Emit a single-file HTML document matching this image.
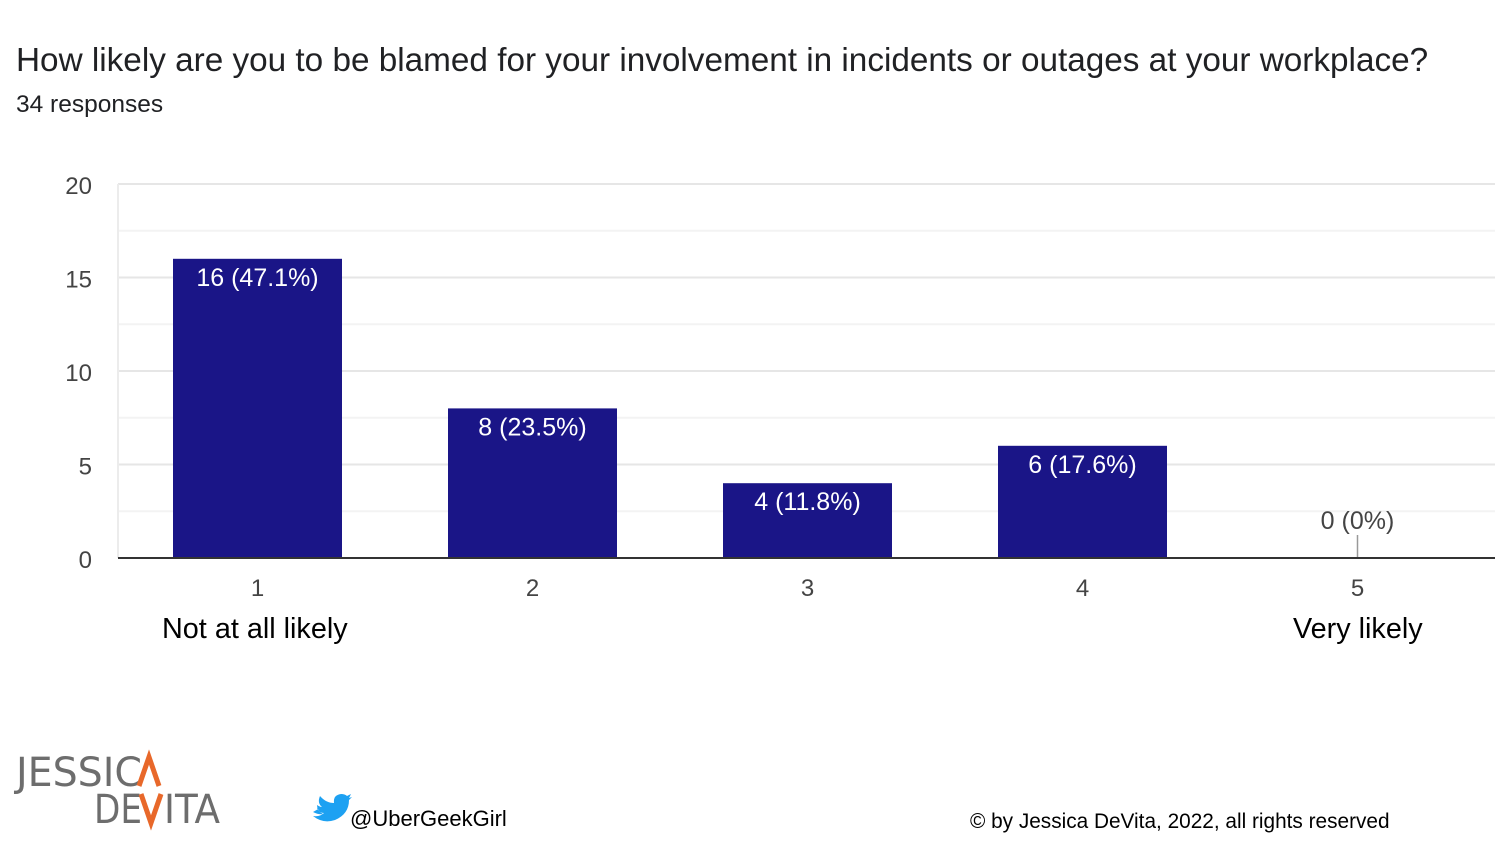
<!DOCTYPE html>
<html><head><meta charset="utf-8">
<style>
body{margin:0;background:#fff;width:1500px;height:844px;overflow:hidden;font-family:"Liberation Sans",Arial,sans-serif}
</style></head>
<body>
<svg width="1500" height="844" style="position:absolute;left:0;top:0">
<text x="16" y="71" font-size="33.3" fill="#202124">How likely are you to be blamed for your involvement in incidents or outages at your workplace?</text>
<text x="16" y="112" font-size="24.5" fill="#202124">34 responses</text>
<g id="grid"></g>
<g id="bars"></g>
<text x="162" y="638" font-size="28.8" fill="#000">Not at all likely</text>
<text x="1293" y="638" font-size="28.8" fill="#000">Very likely</text>
<g font-family="'DejaVu Sans Condensed','Liberation Sans Narrow',sans-serif" font-size="40">
<text x="16" y="786" fill="#6d6d6d" textLength="126" lengthAdjust="spacingAndGlyphs">JESSIC</text>
<path d="M139 786 L149 757 L159 786" stroke="#e8682a" stroke-width="5" fill="none"/>
<text x="94" y="823" fill="#6d6d6d" textLength="48" lengthAdjust="spacingAndGlyphs">DE</text>
<path d="M141 794 L151 823 L161 794" stroke="#e8682a" stroke-width="5" fill="none"/>
<text x="164" y="823" fill="#6d6d6d" textLength="56" lengthAdjust="spacingAndGlyphs">ITA</text>
</g>
<path d="M313 812 q6 3 10 2 q-6-3-6-9 q3 2 5 2 q-5-4-2-11 q6 7 14 7 q-1-8 7-9 q4 0 6 2 l4-2 -2 4 3-1 -3 3 q0 14-14 20 q-12 4-22-4 q7 1 11-3 q-5 0-7-5 q2 1 3 0 z" fill="#1da1f2"/>
<text x="350" y="826" font-size="22" fill="#000">@UberGeekGirl</text>
<text x="970" y="828" font-size="20.8" fill="#000">© by Jessica DeVita, 2022, all rights reserved</text>
</svg>
<script>
const categories=["1","2","3","4","5"];
const counts=[16,8,4,6,0];
const labels=["16 (47.1%)","8 (23.5%)","4 (11.8%)","6 (17.6%)","0 (0%)"];
const yTicks=[0,5,10,15,20];
const NS="http://www.w3.org/2000/svg";
const x0=120,x1=1495,y0=558,yTop=184,yMax=20;
const band=(x1-x0)/categories.length;
const y=v=>y0-(v/yMax)*(y0-yTop);
const xc=i=>x0+band*(i+0.5);
function mk(tag,attrs,parent){const e=document.createElementNS(NS,tag);for(const k in attrs)e.setAttribute(k,attrs[k]);parent.appendChild(e);return e;}
const grid=document.getElementById('grid'),bars=document.getElementById('bars');
for(let v=0;v<=yMax;v+=2.5){
  const l=mk('line',{x1:118,x2:x1,y1:y(v),y2:y(v),stroke:v%5===0?'#e6e6e6':'#f3f3f3','stroke-width':2},grid);
  
  
}
const vl=mk('line',{x1:118,x2:118,y1:yTop,y2:y0,stroke:'#ececec','stroke-width':2},grid);


yTicks.forEach(v=>{
  const t=mk('text',{x:92,y:y(v)+10,'font-size':24,fill:'#444','text-anchor':'end'},grid);
  t.textContent=v;
  
  
});
categories.forEach((c,i)=>{
  const w=169,cx=xc(i),top=y(counts[i]);
  if(counts[i]>0){
    const r=mk('rect',{x:cx-w/2,y:top,width:w,height:y0-top,fill:'#1a1587'},bars);
    
    
    const t=mk('text',{x:cx,y:top+27,'font-size':25,fill:'#fff','text-anchor':'middle'},bars);
    t.textContent=labels[i];
    
    
  }else{
    const l=mk('line',{x1:cx,x2:cx,y1:y0-23,y2:y0,stroke:'#999','stroke-width':1.5},bars);
    
    
    const t=mk('text',{x:cx,y:y0-29,'font-size':25,fill:'#444','text-anchor':'middle'},bars);
    t.textContent=labels[i];
    
    
  }
  const xt=mk('text',{x:cx,y:596,'font-size':24,fill:'#444','text-anchor':'middle'},bars);
  xt.textContent=c;
  
  
});
const ax=mk('line',{x1:118,x2:x1,y1:y0,y2:y0,stroke:'#333','stroke-width':2},bars);


</script>
</body></html>
